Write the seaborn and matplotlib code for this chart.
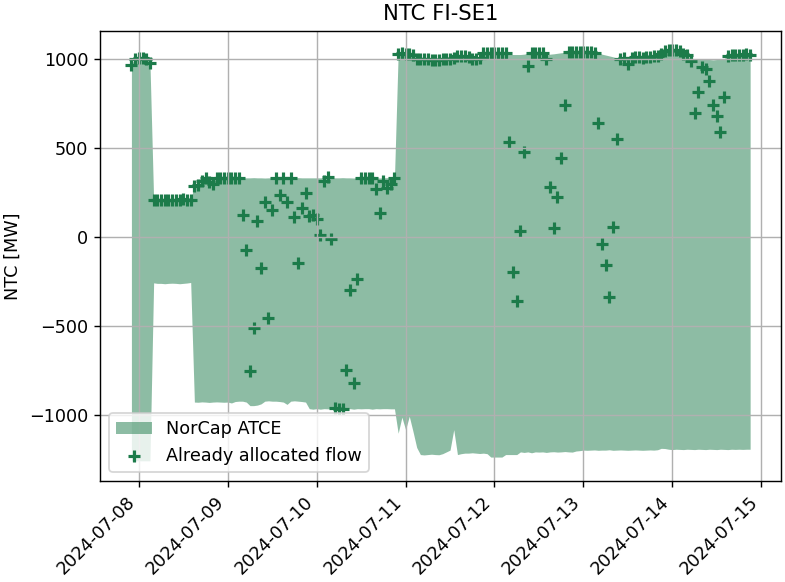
import numpy as np
import pandas as pd
import matplotlib
matplotlib.use("Agg")
import matplotlib.pyplot as plt
import matplotlib.dates as mdates
import seaborn as sns

# hourly timestamps, 2024-07-07 22:00 -> 2024-07-14 21:00
start_time = "2024-07-07 22:00"
n_hours = 168

# NorCap ATCE upper bound [MW], one list per calendar day
atce_max_0707 = [975, 1005]
atce_max_0708 = [1010, 1010, 1005, 985, 212, 212, 210, 212, 212, 212, 210, 212,
                 215, 212, 212, 290, 295, 320, 335, 335, 335, 335, 335, 335]
atce_max_0709 = [335, 335, 336, 335, 334, 335, 335, 336, 335, 335, 334, 335,
                 335, 336, 335, 335, 335, 334, 335, 336, 335, 335, 335, 335]
atce_max_0710 = [335, 335, 336, 335, 334, 335, 335, 336, 335, 335, 334, 335,
                 335, 336, 335, 335, 335, 334, 335, 336, 335, 335, 1032, 1034]
atce_max_0711 = [1032, 1030, 1028, 1005, 1000, 1002, 1000, 996, 995, 998, 1000, 1002,
                 1005, 1010, 1020, 1022, 1020, 1015, 1005, 1000, 1010, 1035, 1037, 1037]
atce_max_0712 = [1037, 1037, 1035, 1035, 1030, 1028, 1028, 1028, 1030, 1035, 1035, 1035,
                 1036, 1035, 1025, 1030, 1032, 1035, 1038, 1040, 1040, 1042, 1040, 1042]
atce_max_0713 = [1040, 1042, 1040, 1038, 1035, 1030, 1025, 1020, 1015, 1008, 1005, 1010,
                 1002, 1008, 1012, 1015, 1010, 1012, 1015, 1018, 1020, 1030, 1050, 1055]
atce_max_0714 = [1056, 1055, 1048, 1032, 1028, 1000, 1000, 1000, 1002, 1004, 1000, 998,
                 1000, 1003, 1005, 1022, 1025, 1028, 1025, 1028, 1030, 1028]

# NorCap ATCE lower bound [MW]
atce_min_0707 = [-1255, -1255]
atce_min_0708 = [-1255, -1255, -1255, -1255, -255, -258, -258, -260, -258, -257, -258, -260,
                 -258, -256, -253, -925, -926, -924, -925, -927, -925, -924, -925, -926]
atce_min_0709 = [-925, -930, -922, -920, -920, -925, -945, -945, -942, -935, -920, -918,
                 -920, -920, -922, -925, -938, -920, -918, -920, -922, -925, -962, -965]
atce_min_0710 = [-962, -965, -962, -963, -962, -965, -962, -962, -963, -962, -965, -962,
                 -963, -962, -962, -965, -962, -963, -962, -962, -963, -963, -1100, -1010]
atce_min_0711 = [-1080, -1005, -1090, -1180, -1220, -1222, -1220, -1218, -1220, -1221, -1215, -1205,
                 -1195, -1080, -1220, -1215, -1212, -1212, -1210, -1212, -1214, -1212, -1215, -1234]
atce_min_0712 = [-1234, -1234, -1234, -1220, -1220, -1220, -1220, -1205, -1208, -1205, -1210, -1205,
                 -1206, -1205, -1208, -1205, -1204, -1206, -1205, -1203, -1205, -1206, -1200, -1198]
atce_min_0713 = [-1195, -1196, -1195, -1194, -1196, -1195, -1195, -1193, -1196, -1195, -1194, -1195,
                 -1196, -1195, -1194, -1195, -1196, -1195, -1194, -1195, -1193, -1185, -1186, -1190]
atce_min_0714 = [-1192, -1190, -1191, -1192, -1190, -1191, -1192, -1190, -1191, -1192, -1190, -1191,
                 -1192, -1190, -1191, -1192, -1190, -1191, -1190, -1191, -1190, -1190]

# already allocated flow [MW]
flow_0707 = [970, 1005]
flow_0708 = [1010, 1010, 1005, 980, 212, 212, 210, 212, 212, 212, 210, 212,
             215, 212, 212, 290, 295, 320, 335, 310, 298, 335, 335, 335]
flow_0709 = [335, 336, 335, 334, 129, -70, -750, -511, 92, -172, 199, -451,
             157, 335, 236, 334, 199, 335, 116, -143, 167, 251, 120, 129]
flow_0710 = [105, 14, 320, 340, -9, -960, -962, -962, -742, -296, -817, -232,
             335, 336, 335, 335, 270, 139, 320, 278, 300, 335, 1032, 1034]
flow_0711 = [1032, 1030, 1028, 1005, 1000, 1002, 1000, 996, 995, 998, 1000, 1002,
             1005, 1010, 1020, 1022, 1020, 1015, 1005, 1000, 1010, 1035, 1037, 1037]
flow_0712 = [1037, 1037, 1035, 1035, 538, -195, -356, 36, 480, 966, 1035, 1035,
             1036, 1035, 1000, 286, 55, 228, 449, 742, 1040, 1042, 1040, 1042]
flow_0713 = [1040, 1042, 1040, 1038, 641, -39, -157, -334, 60, 551, 1005, 1010,
             972, 1008, 1012, 1015, 1010, 1012, 1015, 1018, 1020, 1030, 1050, 1055]
flow_0714 = [1056, 1055, 1048, 1032, 1028, 990, 697, 818, 958, 944, 880, 745,
             685, 590, 791, 1022, 1025, 1028, 1025, 1028, 1030, 1028]

atce_max = np.array(atce_max_0707 + atce_max_0708 + atce_max_0709 + atce_max_0710
                    + atce_max_0711 + atce_max_0712 + atce_max_0713 + atce_max_0714)
atce_min = np.array(atce_min_0707 + atce_min_0708 + atce_min_0709 + atce_min_0710
                    + atce_min_0711 + atce_min_0712 + atce_min_0713 + atce_min_0714)
flow = np.array(flow_0707 + flow_0708 + flow_0709 + flow_0710
                + flow_0711 + flow_0712 + flow_0713 + flow_0714)

times = pd.date_range(start_time, periods=n_hours, freq="h")
df = pd.DataFrame({"time": times, "atce_max": atce_max, "atce_min": atce_min, "flow": flow})

green = "#1c7b4a"

sns.set_style("ticks", rc={
    "axes.edgecolor": "black",
    "axes.grid": True,
    "axes.axisbelow": "line",
    "grid.color": "#b0b0b0",
    "text.color": "black",
    "axes.labelcolor": "black",
    "xtick.color": "black",
    "ytick.color": "black",
})
plt.rcParams["font.family"] = ["DejaVu Sans"]

fig, ax = plt.subplots(figsize=(785 / 127, 582 / 127), dpi=127)
fig.subplots_adjust(left=0.128, right=0.995, top=0.947, bottom=0.174)

ax.fill_between(df["time"], df["atce_min"], df["atce_max"],
                color=green, alpha=0.5, linewidth=0, label="NorCap ATCE")
sns.scatterplot(data=df, x="time", y="flow", marker="+", s=40,
                color=green, linewidth=1.8, ax=ax, label="Already allocated flow")

ax.set_ylim(-1367, 1161)
ax.set_title("NTC FI-SE1", fontsize=12)
ax.set_ylabel("NTC [MW]")
ax.set_xlabel("")
ax.xaxis.set_major_locator(mdates.DayLocator())
ax.xaxis.set_major_formatter(mdates.DateFormatter("%Y-%m-%d"))
plt.setp(ax.get_xticklabels(), rotation=45, ha="right")
ax.legend(loc="lower left")

fig.savefig("out.png", dpi=127)
